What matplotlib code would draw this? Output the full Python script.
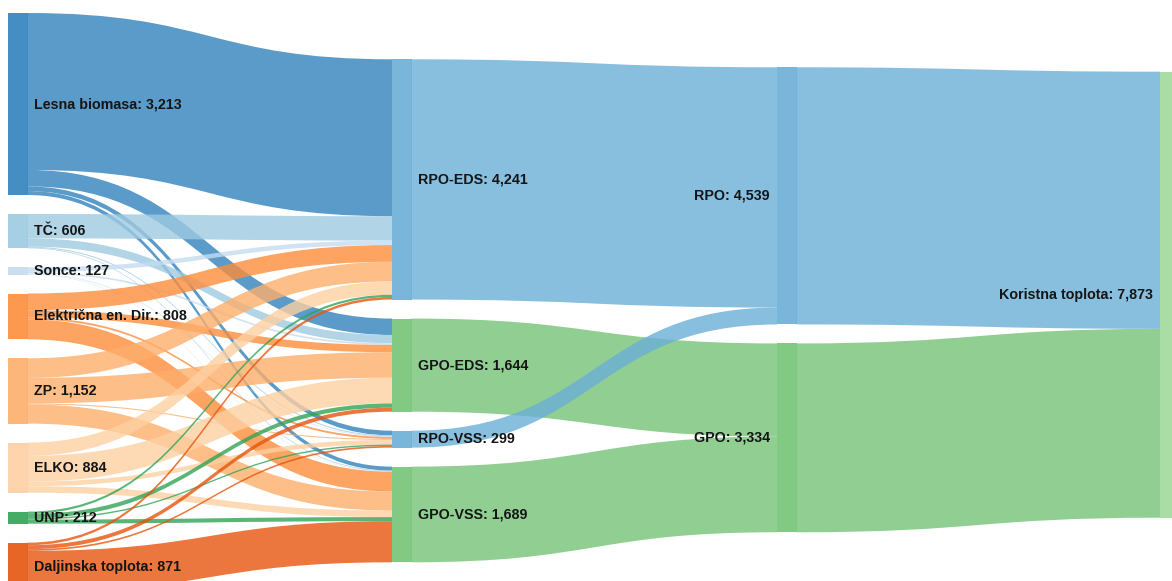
import matplotlib
matplotlib.use("Agg")
import matplotlib.pyplot as plt
from matplotlib.path import Path
from matplotlib.patches import PathPatch, Rectangle

# ---------------- data ----------------
sources = ["Lesna biomasa", "TČ", "Sonce", "Električna en. Dir.", "ZP", "ELKO", "UNP", "Daljinska toplota"]
source_totals = [3213, 606, 127, 808, 1152, 884, 212, 871]
mid_nodes = ["RPO-EDS", "GPO-EDS", "RPO-VSS", "GPO-VSS"]
mid_totals = [4241, 1644, 299, 1689]
grp_nodes = ["RPO", "GPO"]
grp_totals = [4539, 3334]
end_nodes = ["Koristna toplota"]
end_totals = [7873]

# source -> mid flows, order: RPO-EDS, GPO-EDS, RPO-VSS, GPO-VSS
flow_lesna = [2770, 290, 83, 70]
flow_tc = [430, 145, 18, 13]
flow_sonce = [80, 30, 10, 7]
flow_elek = [295, 130, 33, 350]
flow_zp = [346, 450, 19, 337]
flow_elko = [235, 454, 81, 114]
flow_unp = [40, 75, 25, 72]
flow_dalj = [45, 70, 30, 726]
source_flows = [flow_lesna, flow_tc, flow_sonce, flow_elek, flow_zp, flow_elko, flow_unp, flow_dalj]

# mid -> group (RPO, GPO)
mid_to_grp = [("RPO-EDS", "RPO", 4241), ("GPO-EDS", "GPO", 1644),
              ("RPO-VSS", "RPO", 299), ("GPO-VSS", "GPO", 1689)]
# group -> end
grp_to_end = [("RPO", "Koristna toplota", 4539), ("GPO", "Koristna toplota", 3334)]

# ---------------- style / layout ----------------
source_colors = ["#3182bd", "#9ecae1", "#c6dbef", "#fd8d3c", "#fdae6b", "#fdd0a2", "#31a354", "#e6550d"]
mid_colors = ["#6baed6", "#74c476", "#6baed6", "#74c476"]
grp_colors = ["#6baed6", "#74c476"]
end_colors = ["#a1d99b"]

W, H = 1172, 581
scale = 0.05665          # px per unit
gap = 19.0
node_w = 19.5
col_x = [8, 392, 777, 1160]
col_top = [13, 59.3, 67.3, 71.7]
link_alpha = 0.8

columns = [
    (sources, source_totals, source_colors),
    (mid_nodes, mid_totals, mid_colors),
    (grp_nodes, grp_totals, grp_colors),
    (end_nodes, end_totals, end_colors),
]

# node geometry
nodes = {}
for ci, (names, totals, colors) in enumerate(columns):
    y = col_top[ci]
    for i, (n, v, c) in enumerate(zip(names, totals, colors)):
        h = v * scale
        nodes[n] = dict(col=ci, idx=i, x=col_x[ci], y=y, h=h, v=v, color=c)
        y += h + gap

# links
links = []
for s, fl in zip(sources, source_flows):
    for t, v in zip(mid_nodes, fl):
        links.append((s, t, v))
links += mid_to_grp
links += grp_to_end

# offsets: outgoing sorted by target position, incoming by source position
out_off = {}
in_off = {}
for n in nodes:
    outs = sorted([l for l in links if l[0] == n], key=lambda l: nodes[l[1]]["idx"])
    y = nodes[n]["y"]
    for l in outs:
        out_off[(l[0], l[1])] = y
        y += l[2] * scale
    ins = sorted([l for l in links if l[1] == n], key=lambda l: nodes[l[0]]["idx"])
    y = nodes[n]["y"]
    for l in ins:
        in_off[(l[0], l[1])] = y
        y += l[2] * scale

fig = plt.figure(figsize=(W / 100, H / 100), dpi=100)
ax = fig.add_axes([0, 0, 1, 1])
ax.set_xlim(0, W)
ax.set_ylim(H, 0)
ax.axis("off")

for s, t, v in links:
    x0 = nodes[s]["x"] + node_w
    x1 = nodes[t]["x"]
    h = v * scale
    y0 = out_off[(s, t)]
    y1 = in_off[(s, t)]
    xm = (x0 + x1) / 2
    verts = [(x0, y0), (xm, y0), (xm, y1), (x1, y1),
             (x1, y1 + h), (xm, y1 + h), (xm, y0 + h), (x0, y0 + h), (x0, y0)]
    codes = [Path.MOVETO, Path.CURVE4, Path.CURVE4, Path.CURVE4,
             Path.LINETO, Path.CURVE4, Path.CURVE4, Path.CURVE4, Path.CLOSEPOLY]
    ax.add_patch(PathPatch(Path(verts, codes), facecolor=nodes[s]["color"],
                           edgecolor="none", alpha=link_alpha, zorder=1))

font = ["Liberation Sans", "DejaVu Sans"]
for n, d in nodes.items():
    ax.add_patch(Rectangle((d["x"], d["y"]), node_w, d["h"], facecolor=d["color"],
                           edgecolor="none", alpha=0.9, zorder=2))
    label = f"{n}: {d['v']:,}"
    cy = d["y"] + d["h"] / 2
    if d["col"] < 2:
        ax.text(d["x"] + node_w + 6, cy, label, ha="left", va="center", fontsize=10.3,
                fontweight="bold", family=font, color="#151515", zorder=3)
    else:
        ax.text(d["x"] - 7, cy, label, ha="right", va="center", fontsize=10.3,
                fontweight="bold", family=font, color="#151515", zorder=3)

fig.savefig("out.png", dpi=100)
